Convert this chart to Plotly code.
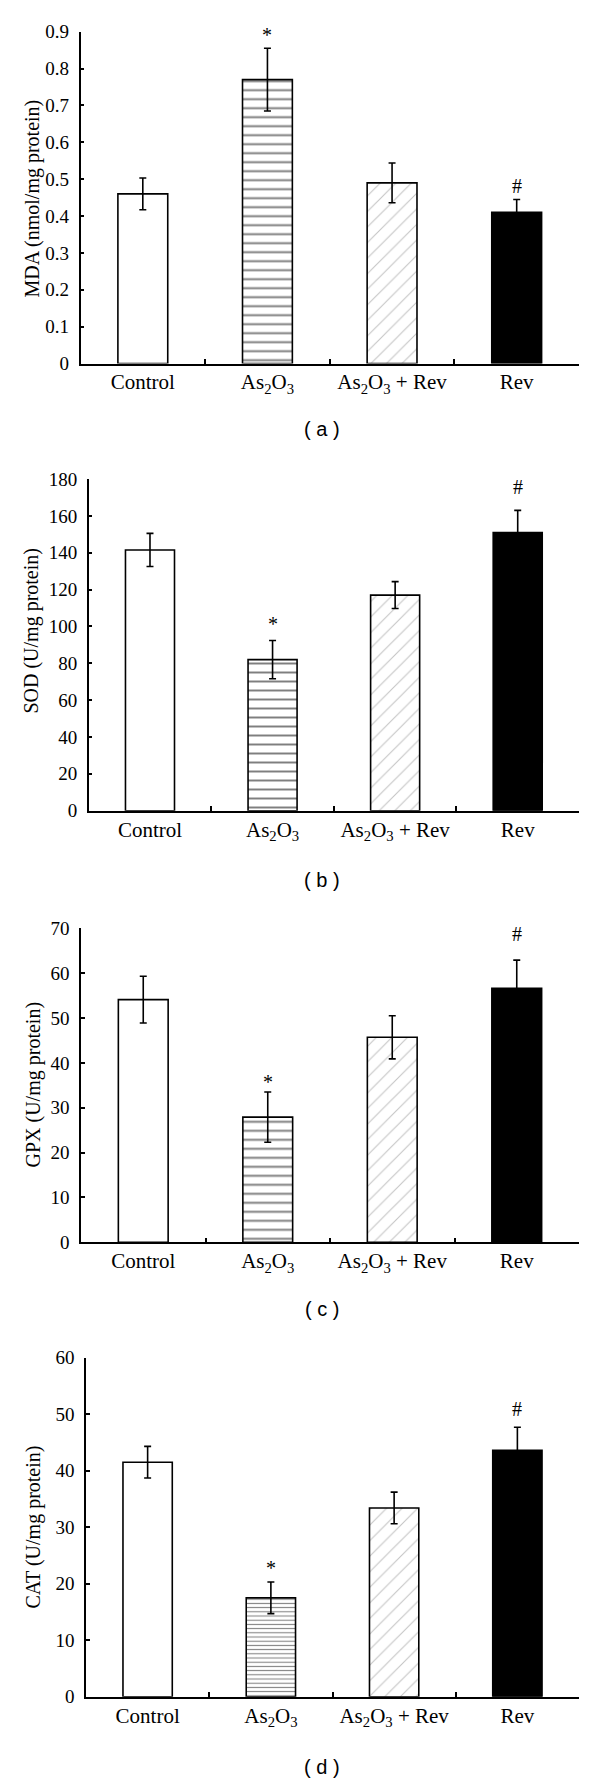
import plotly.graph_objects as go

# ---------------- data ----------------
categories = ["Control", "As<sub>2</sub>O<sub>3</sub>", "As<sub>2</sub>O<sub>3</sub> + Rev", "Rev"]

mda = [0.46, 0.77, 0.49, 0.41]
mda_err = [0.043, 0.085, 0.054, 0.035]

sod = [141.5, 82, 117, 151]
sod_err = [9, 10.4, 7.3, 12]

gpx = [54.1, 27.9, 45.7, 56.6]
gpx_err = [5.2, 5.6, 4.8, 6.3]

cat = [41.5, 17.5, 33.4, 43.6]
cat_err = [2.8, 2.8, 2.8, 4.1]

sig_marks = ["", "*", "", "#"]

y_titles = ["MDA (nmol/mg protein)", "SOD (U/mg protein)", "GPX (U/mg protein)", "CAT (U/mg protein)"]
y_max = [0.9, 180, 70, 60]
y_dtick = [0.1, 20, 10, 10]
panel_labels = ["( a )", "( b )", "( c )", "( d )"]

values = [mda, sod, gpx, cat]
errors = [mda_err, sod_err, gpx_err, cat_err]

# ---------------- layout (pixel geometry) ----------------
W, H = 600, 1782
areas = [
    (80.5, 579, 31.7, 363.5),
    (88.7, 579, 479, 810.7),
    (81, 579, 928.3, 1242.3),
    (86, 579, 1357.7, 1696.7),
]
title_x_px = [32.5, 30.6, 32.5, 32.5]
title_y_px = [199, 631, 1085, 1527]
label_y_px = [429, 880, 1309, 1767]
label_x_px = 322
stripe_size = [9, 9, 9, 4.2]
stripe_solid = [0.22, 0.22, 0.22, 0.25]
mark_shift = [[0, 0, 0, 0], [0, 3, 0, 10], [0, -3, 0, 13], [0, 1, 0, 5]]

SERIF = "Liberation Serif, Times New Roman, serif"
SANS = "Liberation Sans, Arial, sans-serif"

fill_colors = ["white", "white", "white", "black"]
pat_shapes = ["", "-", "/", ""]
pat_colors = ["black", "black", "#8a8a8a", "black"]

fig = go.Figure()
annotations = []

for i in range(4):
    xa = "x" if i == 0 else f"x{i+1}"
    ya = "y" if i == 0 else f"y{i+1}"
    for j in range(4):
        pat = dict(shape=pat_shapes[j])
        if pat_shapes[j] == "-":
            pat.update(fgcolor=pat_colors[j], bgcolor="white",
                       size=stripe_size[i], solidity=stripe_solid[i])
        elif pat_shapes[j] == "/":
            pat.update(fgcolor=pat_colors[j], bgcolor="white", size=11, solidity=0.1)
        fig.add_trace(go.Bar(
            x=[categories[j]],
            y=[values[i][j]],
            width=0.4,
            xaxis=xa, yaxis=ya,
            marker=dict(color=fill_colors[j],
                        line=dict(color="black", width=1.6),
                        pattern=pat),
            error_y=dict(type="data", array=[errors[i][j]], visible=True,
                         color="black", thickness=1.6, width=3.5),
            showlegend=False,
            hoverinfo="skip",
        ))
    l, r, t, b = areas[i]
    xkey = "xaxis" if i == 0 else f"xaxis{i+1}"
    ykey = "yaxis" if i == 0 else f"yaxis{i+1}"
    fig.update_layout(**{
        xkey: dict(
            domain=[l / W, r / W], anchor=ya, type="category",
            categoryorder="array", categoryarray=categories,
            range=[-0.5, 3.5], tickson="boundaries",
            ticks="inside", ticklen=5, tickwidth=1.5, tickcolor="black",
            showline=True, linecolor="black", linewidth=1.5,
            showgrid=False, zeroline=False, automargin=False,
            tickfont=dict(family=SERIF, size=21, color="black"),
            ticklabelstandoff=-1,
        ),
        ykey: dict(
            domain=[1 - b / H, 1 - t / H], anchor=xa,
            range=[0, y_max[i]], dtick=y_dtick[i], tick0=0,
            ticks="inside", ticklen=4, tickwidth=1.5, tickcolor="black",
            showline=True, linecolor="black", linewidth=1.5,
            showgrid=False, zeroline=False, automargin=False,
            tickfont=dict(family=SERIF, size=19, color="black"),
            ticklabelstandoff=6,
        ),
    })
    annotations.append(dict(
        text=y_titles[i], textangle=-90, showarrow=False,
        xref="paper", yref="paper",
        x=title_x_px[i] / W, y=1 - title_y_px[i] / H,
        xanchor="center", yanchor="middle",
        font=dict(family=SERIF, size=20, color="black"),
    ))
    annotations.append(dict(
        text=panel_labels[i], showarrow=False,
        xref="paper", yref="paper",
        x=label_x_px / W, y=1 - label_y_px[i] / H,
        xanchor="center", yanchor="middle",
        font=dict(family=SANS, size=20, color="black"),
    ))
    for j, m in enumerate(sig_marks):
        if m:
            annotations.append(dict(
                text=m, showarrow=False,
                xref=xa, yref=ya,
                x=categories[j], y=values[i][j] + errors[i][j],
                xanchor="center", yanchor="bottom",
                yshift=mark_shift[i][j],
                font=dict(family=SERIF, size=20, color="black"),
            ))

fig.update_layout(
    width=W, height=H,
    margin=dict(l=0, r=0, t=0, b=0),
    paper_bgcolor="white", plot_bgcolor="white",
    annotations=annotations,
    barmode="overlay",
)

fig.write_html("out.html", config={"displayModeBar": False},
               post_script="document.body.style.margin='0';document.body.style.padding='0';")
